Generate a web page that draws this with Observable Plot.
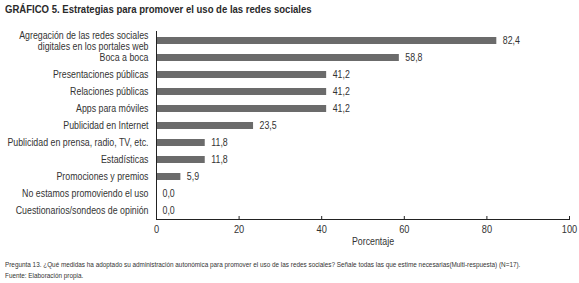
<!DOCTYPE html>
<html>
<head>
<meta charset="utf-8">
<script src="https://cdn.jsdelivr.net/npm/d3@7"></script>
<script src="https://cdn.jsdelivr.net/npm/@observablehq/plot@0.6"></script>
<style>
  body { margin: 0; background: #fff; }
  #wrap { position: relative; width: 579px; height: 283px; overflow: hidden; font-family: "Liberation Sans", Arial, sans-serif; color: #333; }
  #title { position: absolute; left: 5px; top: 3px; font-size: 11.5px; font-weight: bold; white-space: nowrap; transform: scaleX(0.83); transform-origin: 0 0; color: #2a2a2a; }
  .note { position: absolute; left: 5px; font-size: 7px; white-space: nowrap; transform: scaleX(0.91); transform-origin: 0 0; color: #333; }
  #xlabel { position: absolute; left: 373px; top: 235px; font-size: 10.5px; white-space: nowrap; transform: translateX(-50%) scaleX(0.84); color: #333; }
  #chart { position: absolute; left: 0; top: 0; }
</style>
</head>
<body>
<div id="wrap">
  <div id="chart"></div>
  <div id="title">GRÁFICO 5. Estrategias para promover el uso de las redes sociales</div>
  <div id="xlabel"></div>
  <div class="note" style="top:261px">Pregunta 13. ¿Qué medidas ha adoptado su administración autonómica para promover el uso de las redes sociales? Señale todas las que estime necesarias(Multi-respuesta) (N=17).</div>
  <div class="note" style="top:272px">Fuente: Elaboración propia.</div>
</div>
<script>
const categories = [
  "Agregación de las redes sociales\ndigitales en los portales web",
  "Boca a boca",
  "Presentaciones públicas",
  "Relaciones públicas",
  "Apps para móviles",
  "Publicidad en Internet",
  "Publicidad en prensa, radio, TV, etc.",
  "Estadísticas",
  "Promociones y premios",
  "No estamos promoviendo el uso",
  "Cuestionarios/sondeos de opinión"
];
const values = [82.4, 58.8, 41.2, 41.2, 41.2, 23.5, 11.8, 11.8, 5.9, 0.0, 0.0];
const xTicks = [0, 20, 40, 60, 80, 100];
const xLabel = "Porcentaje";

const data = categories.map((c, i) => ({category: c, value: values[i]}));
const fmt = v => v.toFixed(1).replace(".", ",");

const chart = Plot.plot({
  width: 579,
  height: 283,
  marginTop: 31,
  marginBottom: 64,
  marginLeft: 156,
  marginRight: 10,
  style: {fontFamily: '"Liberation Sans", Arial, sans-serif', fontSize: "10.5px", color: "#333", background: "transparent"},
  x: {domain: [0, 100]},
  y: {domain: categories, padding: 0},
  marks: [
    Plot.barX(data, {x: "value", y: "category", fill: "#6b6b6b", insetTop: 5, insetBottom: 5}),
    Plot.text(data, {x: "value", y: "category", text: d => fmt(d.value), textAnchor: "start", dx: 6, fill: "#333", fontSize: 10.5, className: "cond"}),
    Plot.ruleX([0], {stroke: "#222", strokeWidth: 1}),
    Plot.frame({anchor: "bottom", stroke: "#222"}),
    Plot.ruleX(xTicks, {insetTop: 185, stroke: "#222"}),
    Plot.axisY({tickSize: 0, tickPadding: 8, label: null, fontSize: 10.5, lineHeight: 1.0, className: "cond"}),
    Plot.axisX({ticks: xTicks, tickSize: 0, tickPadding: 6, label: null, fontSize: 11, className: "cond"})
  ]
});
// condensed look: narrow the text horizontally around its anchor point
chart.querySelectorAll(".cond text").forEach(t => {
  const tr = t.getAttribute("transform") || "";
  t.setAttribute("transform", (tr + " scale(0.84,1)").trim());
});
document.getElementById("chart").appendChild(chart);
document.getElementById("xlabel").textContent = xLabel;
</script>
</body>
</html>
